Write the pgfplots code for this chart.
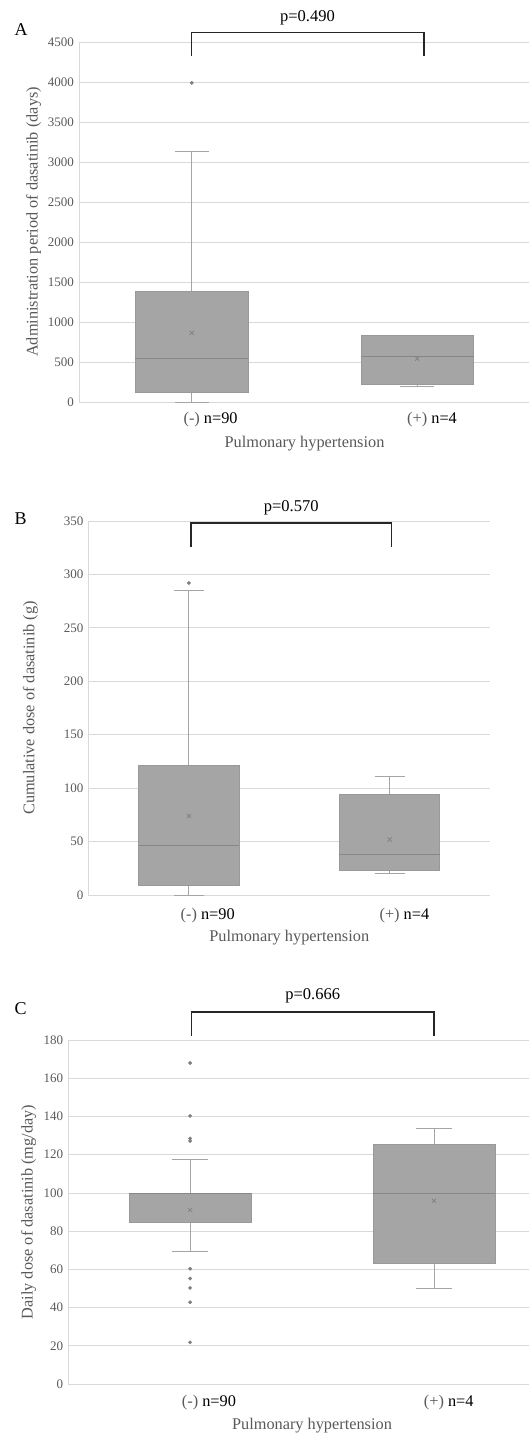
\documentclass[border=0pt]{standalone}
\usepackage{fontspec}
\setmainfont{Liberation Serif}
\usepackage{pgfplots}
\pgfplotsset{compat=1.18}
\usepgfplotslibrary{statistics}
\definecolor{gridgray}{HTML}{D9D9D9}
\definecolor{boxfill}{HTML}{A5A5A5}
\definecolor{boxedge}{HTML}{999999}
\definecolor{medgray}{HTML}{878787}
\definecolor{whiskgray}{HTML}{A5A5A5}
\definecolor{meangray}{HTML}{808080}
\definecolor{dotgray}{HTML}{7F7F7F}
\definecolor{textgray}{HTML}{595959}

\pgfplotsset{
  panel/.style={
    scale only axis,
    anchor=south west,
    xmin=-0.5, xmax=1.5,
    xtick={0,1},
    xticklabels={{\color{textgray}(-)\rlap{\color{black}\ n=90}},{\color{textgray}(+)\rlap{\color{black}\ n=4}}},
    ymin=0,
    axis lines*=left,
    axis line style={draw=gridgray, line width=0.8pt},
    ymajorgrids,
    grid style={draw=gridgray, line width=0.8pt},
    major tick length=0pt,
    tick label style={font=\fontsize{13}{14}\selectfont, text=textgray},
    xticklabel style={font=\fontsize{16.3}{18}\selectfont, anchor=base},
    yticklabel style={anchor=east, xshift=-1.5pt},
    /pgf/number format/assume math mode=true,
    /pgf/number format/1000 sep={},
    label style={font=\fontsize{16.3}{18}\selectfont, text=textgray},
    xlabel={Pulmonary hypertension},
    clip=false,
    boxplot/draw direction=y,
    boxplot/box extend=0.5,
    boxplot/whisker extend=0.15,
    boxplot/every box/.style={draw=boxedge, fill=boxfill, line width=0.7pt},
    boxplot/every median/.style={draw=medgray, line width=0.8pt},
    boxplot/every whisker/.style={draw=whiskgray, line width=0.8pt},
  },
  bp/.style={mark=*, mark size=1.7pt, mark options={draw=dotgray, fill=dotgray}, draw=boxedge},
  meanx/.style={only marks, mark=x, mark size=3pt, mark options={draw=meangray, line width=0.7pt}},
}

\begin{document}
\begin{tikzpicture}
% ---------------- Panel A ----------------
\node[anchor=west, font=\fontsize{18}{20}\selectfont] at (11pt,-30pt) {A};
\begin{axis}[panel, at={(79pt,-402pt)}, width=451pt, height=360pt,
  ymax=4500, ytick={0,500,...,4500},
  xticklabel style={yshift=-21pt},
  ylabel={Administration period of dasatinib (days)},
  ylabel style={at={(axis description cs:-0.1004,0.5)}, anchor=center},
  xlabel style={at={(axis description cs:0.5,0)}, anchor=center, yshift=-42pt}]
\addplot[bp, boxplot prepared={lower whisker=0, lower quartile=117, median=547,
  upper quartile=1386, upper whisker=3135, draw position=0}]
  table[row sep=\\, y index=0] {data\\ 3990\\};
\addplot[bp, boxplot prepared={lower whisker=196, lower quartile=225, median=576,
  upper quartile=835, upper whisker=835, draw position=1}]
  coordinates {};
\addplot[meanx] coordinates {(0,864) (1,543)};
\draw[line width=1.3pt, black!85] (axis cs:0,4319) -- (axis cs:0,4619) -- (axis cs:1.03,4619) -- (axis cs:1.03,4319);
\node[font=\fontsize{16.5}{18}\selectfont] at (axis cs:0.513,4806) {p=0.490};
\end{axis}

% ---------------- Panel B ----------------
\node[anchor=west, font=\fontsize{18}{20}\selectfont] at (11pt,-518.5pt) {B};
\begin{axis}[panel, at={(88.5pt,-895pt)}, width=401.5pt, height=374pt,
  ymax=350, ytick={0,50,...,350},
  xticklabel style={yshift=-24pt},
  ylabel={Cumulative dose of dasatinib (g)},
  ylabel style={at={(axis description cs:-0.1447,0.5)}, anchor=center},
  xlabel style={at={(axis description cs:0.5,0)}, anchor=center, yshift=-43pt}]
\addplot[bp, boxplot prepared={lower whisker=0, lower quartile=9, median=46,
  upper quartile=121.7, upper whisker=285.4, draw position=0}]
  table[row sep=\\, y index=0] {data\\ 292\\};
\addplot[bp, boxplot prepared={lower whisker=20, lower quartile=23.2, median=38,
  upper quartile=94, upper whisker=111, draw position=1}]
  coordinates {};
\addplot[meanx] coordinates {(0,74) (1,52)};
\draw[line width=1.3pt, black!85] (axis cs:0.01,326) -- (axis cs:0.01,348) -- (axis cs:1.01,348) -- (axis cs:1.01,326);
\node[font=\fontsize{16.5}{18}\selectfont] at (axis cs:0.51,362) {p=0.570};
\end{axis}

% ---------------- Panel C ----------------
\node[anchor=west, font=\fontsize{18}{20}\selectfont] at (11pt,-1009pt) {C};
\begin{axis}[panel, at={(68.2pt,-1384pt)}, width=487.6pt, height=344pt,
  ymax=180, ytick={0,20,...,180},
  xticklabel style={yshift=-22.5pt},
  ylabel={Daily dose of dasatinib (mg/day)},
  ylabel style={at={(axis description cs:-0.081,0.5)}, anchor=center},
  xlabel style={at={(axis description cs:0.5,0)}, anchor=center, yshift=-42pt}]
\addplot[bp, boxplot prepared={lower whisker=69.4, lower quartile=84.4, median=100,
  upper quartile=100, upper whisker=117.3, draw position=0}]
  table[row sep=\\, y index=0] {data\\ 168\\ 140.3\\ 128.5\\ 127.2\\ 60.3\\ 55.2\\ 50.3\\ 42.8\\ 21.8\\};
\addplot[bp, boxplot prepared={lower whisker=50.2, lower quartile=62.9, median=100,
  upper quartile=125.6, upper whisker=133.7, draw position=1}]
  coordinates {};
\addplot[meanx] coordinates {(0,91) (1,95.9)};
\draw[line width=1.3pt, black!85] (axis cs:0.007,182) -- (axis cs:0.007,194.6) -- (axis cs:1.0,194.6) -- (axis cs:1.0,182);
\node[font=\fontsize{16.5}{18}\selectfont] at (axis cs:0.503,203) {p=0.666};
\end{axis}

\pgfresetboundingbox
\path (0pt,0pt) rectangle (529pt,-1434pt);
\end{tikzpicture}
\end{document}
